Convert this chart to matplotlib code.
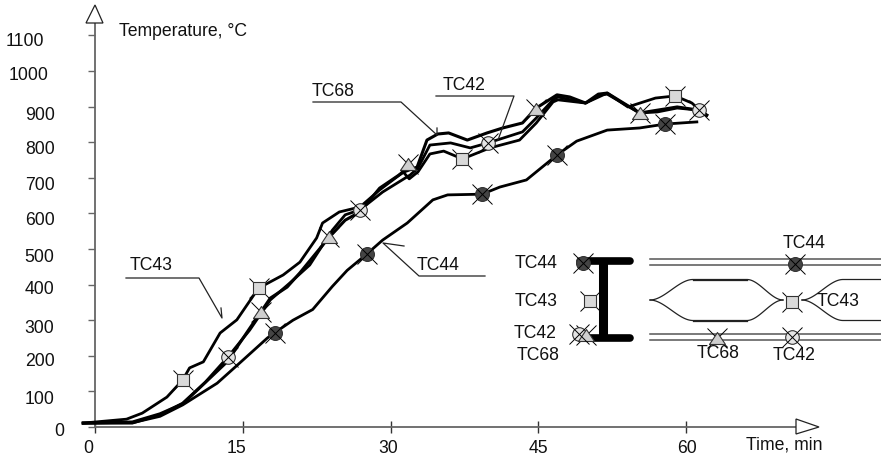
import numpy as np
import matplotlib
matplotlib.use('Agg')
import matplotlib.pyplot as plt
from matplotlib.patches import Polygon
from matplotlib.transforms import ScaledTranslation

plt.rcParams['font.family'] = ['Liberation Sans', 'DejaVu Sans']
plt.rcParams['font.size'] = 12.7

# temperature curves (time in min, temperature in C)
t43 = [-1.2, 3.2, 4.8, 7.3, 8.9, 9.6, 11, 12.7, 14.4, 16.6, 19.1, 20.8, 22.5, 23.1, 24.8, 26.9, 28.9, 31.3, 31.9,
       32.8, 34, 35.4, 37.3, 40.1, 43.1, 44.8, 46.5, 47, 49.8, 52, 54.1, 56.9, 58.9, 60.6, 61.4, 62.1]
T43 = [11, 22, 39, 84, 132, 166, 183, 264, 301, 390, 427, 463, 531, 573, 604, 618, 666, 716, 697,
       717, 767, 775, 753, 784, 806, 854, 913, 919, 910, 938, 899, 924, 930, 910, 890, 876]
t42 = [-1.2, 3.8, 6.6, 8.9, 11.2, 13.5, 15.7, 17.8, 19.8, 21.8, 24.1, 25.4, 26.9, 29.2, 32, 32.8, 34, 36.1,
       38.1, 39.9, 43.4, 44.8, 46.5, 47, 49.8, 51.3, 52, 55.3, 57.1, 59.1, 61.3, 62.1]
T42 = [11, 11, 34, 67, 126, 197, 272, 357, 405, 455, 553, 596, 610, 660, 708, 728, 792, 798,
       784, 798, 829, 868, 919, 927, 910, 933, 935, 882, 885, 896, 890, 876]
t68 = [-1.2, 3.8, 6.6, 8.9, 10.7, 13.4, 15.8, 17.8, 19.5, 20.8, 23.8, 25.4, 26.9, 28.9, 31.3, 32.7, 33.7, 34.8,
       35.9, 37.8, 39.8, 41.4, 43.4, 44.8, 46.9, 48.2, 49.8, 51.1, 52, 55.3, 57.1, 59.1, 61.3, 62.1]
T68 = [11, 14, 37, 65, 112, 183, 281, 362, 393, 433, 534, 581, 604, 671, 716, 730, 806, 823,
       826, 806, 826, 840, 854, 896, 933, 927, 910, 935, 938, 882, 890, 899, 890, 876]
t44 = [-1.2, 3.8, 6.6, 8.9, 12.4, 14.7, 17.5, 18.2, 20.1, 22.1, 24.1, 25.6, 27.6, 29.2, 31.7, 34.3, 35.8, 39.3,
       41.1, 43.8, 46.9, 48.9, 52, 55.3, 57.9, 61.1]
T44 = [11, 12, 30, 62, 123, 180, 250, 264, 300, 330, 395, 440, 486, 525, 573, 638, 652, 654,
       674, 694, 764, 803, 834, 840, 851, 857]

# marker places along each curve
mark43 = ([8.9, 16.6, 37.3, 58.9], [132, 390, 753, 930])
mark42 = ([13.5, 26.9, 39.9, 61.3], [197, 610, 798, 890])
mark68 = ([16.9, 23.8, 31.8, 44.8, 55.3], [323, 534, 738, 894, 882])
mark44 = ([18.3, 27.6, 39.3, 46.9, 57.9], [264, 486, 654, 764, 851])

y_ticks = [0, 100, 200, 300, 400, 500, 600, 700, 800, 900, 1000, 1100]
x_ticks = [0, 15, 30, 45, 60]
# hand placed tick labels in the original (pixels right, pixels down)
y_shift = [(-18, 2), (-28, 6), (-28, 4), (-28, 6), (-28, 3), (-28, 7), (-28, 5), (-28, 6), (-28, 5), (-28, 7), (-34, 3), (-38, 4)]
x_shift = [(-7, 0), (-6, 0), (-2, 0), (0, 0), (1, 0)]

gray = '#666666'
triangle = [(-1, -0.75), (1, -0.75), (0, 0.75), (-1, -0.75)]
fig = plt.figure(figsize=(8.81, 4.57), dpi=100)
W, H = 881, 457


def stamp(a, x, y, shape, face, size, cross_on_top):
    a.plot(x, y, ls='none', marker='x', ms=14, mew=0.7, color='k', zorder=6 if cross_on_top else 4, clip_on=False)
    a.plot(x, y, ls='none', marker=shape, ms=size, mfc=face, mec='#333333', mew=0.8, zorder=5, clip_on=False)


def stamp_all(a, x43, x42, x68, x44):
    stamp(a, *x43, 's', '#d9d9d9', 8.7, False)
    stamp(a, *x42, 'o', '#e4e4e4', 9.8, True)
    stamp(a, *x68, triangle, '#cfcfcf', 11.5, False)
    stamp(a, *x44, 'o', '#444444', 10, True)


ax = fig.add_axes([95 / W, 1 - 427 / H, 705 / W, 404 / H])
ax.set_xlim(0, 705 / 9.85)
ax.set_ylim(0, 404 / 0.356)
for s in ['top', 'right']:
    ax.spines[s].set_visible(False)
for s in ['left', 'bottom']:
    ax.spines[s].set_color(gray)
    ax.spines[s].set_linewidth(1.3)

for tt, TT, lw in [(t43, T43, 2.0), (t42, T42, 2.0), (t68, T68, 2.2), (t44, T44, 2.0)]:
    ax.plot(tt, TT, color='k', lw=lw, clip_on=False, solid_joinstyle='round', zorder=3)
stamp_all(ax, mark43, mark42, mark68, mark44)

ax.set_yticks(y_ticks)
ax.set_xticks(x_ticks)
ax.tick_params(axis='y', length=5, width=1, color=gray, pad=4, labelcolor='#111111')
ax.tick_params(axis='x', direction='inout', length=9, width=1, color='#333333', pad=5, labelcolor='#111111')
for lab, (dx, dy) in zip(ax.get_yticklabels(), y_shift):
    lab.set_transform(lab.get_transform() + ScaledTranslation(dx / 100, -dy / 100, fig.dpi_scale_trans))
for lab, (dx, dy) in zip(ax.get_xticklabels(), x_shift):
    lab.set_transform(lab.get_transform() + ScaledTranslation(dx / 100, -dy / 100, fig.dpi_scale_trans))

# overlay in pixel units for arrows, callouts and the section sketch
ov = fig.add_axes([0, 0, 1, 1], facecolor='none')
ov.set_xlim(0, W)
ov.set_ylim(H, 0)
ov.axis('off')

ov.add_patch(Polygon([[86, 23], [103, 23], [95, 5]], fc='white', ec='#222222', lw=0.9))
ov.add_patch(Polygon([[796, 419], [796, 434], [819, 427]], fc='white', ec='#222222', lw=0.9))
ov.text(119, 31, 'Temperature, °C', va='center', color='#111111')
ov.text(746, 445, 'Time, min', va='center', color='#111111')

callouts = [
    ('TC43', 130, 265, [126, 199, 222, 221], [278, 278, 318, 308]),
    ('TC68', 312, 92, [313, 401, 437, 437], [102, 102, 135, 128]),
    ('TC42', 443, 86, [436, 514, 498], [96, 96, 140]),
    ('TC44', 417, 265, [404, 383, 419, 485], [246, 243, 276, 276]),
]
for name, tx, ty, lx, ly in callouts:
    ov.text(tx, ty, name, va='center', color='#111111')
    ov.plot(lx, ly, color='#222222', lw=0.9)

# section sketch
ov.plot([580, 630], [261, 261], color='k', lw=5.5, solid_capstyle='round')
ov.plot([580, 630], [338, 338], color='k', lw=5.5, solid_capstyle='round')
ov.plot([603, 603], [261, 338], color='k', lw=6.5, solid_capstyle='butt')
for yy in [259, 265, 334, 340]:
    ov.plot([650, W], [yy, yy], color='#555555', lw=1.1)

s = np.linspace(0, 1, 40)
bend = 3 * s**2 - 2 * s**3
for sign in [-1, 1]:
    ov.plot(np.r_[650 + 43 * s, 747 + 36 * s], np.r_[300 + sign * 20.5 * bend, 300 + sign * 20.5 * (1 - bend)],
            color='#222222', lw=0.9)
    ov.plot([693, 747], [300 + sign * 20.5] * 2, color='#222222', lw=0.9)
    ov.plot(np.r_[802 + 41 * s, 843, W], np.r_[300 + sign * 20.5 * bend, 300 + sign * 20.5, 300 + sign * 20.5],
            color='#222222', lw=0.9)

stamp_all(ov, ([590, 792], [301, 302]), ([579, 792], [334, 337]), ([586, 717], [335, 338]), ([583, 795], [263, 264]))

sketch_labels = [('TC44', 515, 263), ('TC43', 515, 301), ('TC42', 514, 333), ('TC68', 517, 355),
                 ('TC44', 783, 243), ('TC43', 817, 301), ('TC68', 697, 354), ('TC42', 773, 355)]
for name, tx, ty in sketch_labels:
    ov.text(tx, ty, name, va='center', color='#111111', zorder=7)

fig.savefig('out.png', dpi=100)
